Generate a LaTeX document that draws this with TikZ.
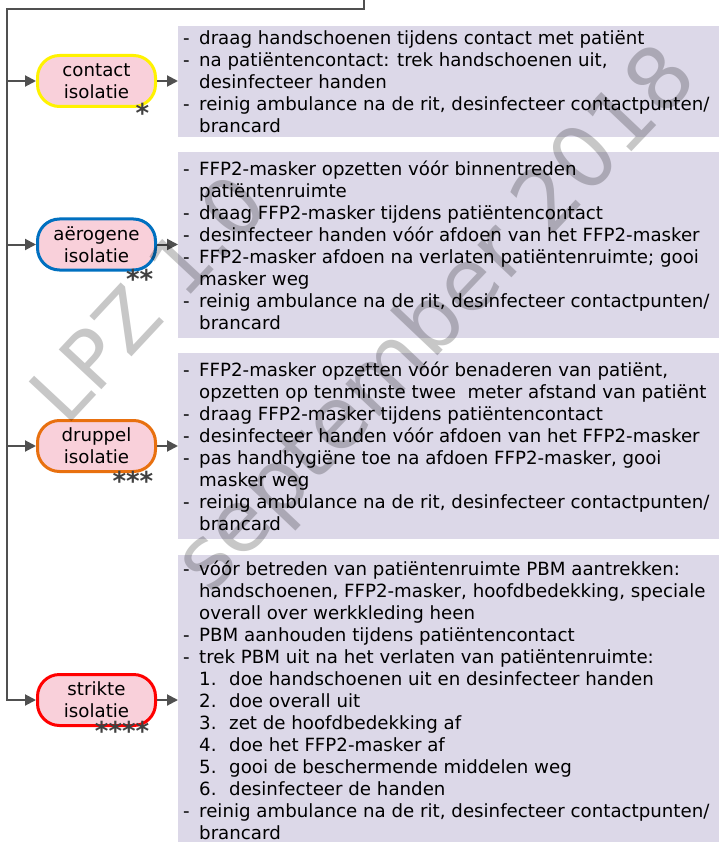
\documentclass[tikz,border=0pt]{standalone}
\usepackage{fontspec}
\setmainfont{DejaVu Sans}
\usetikzlibrary{arrows.meta}

\definecolor{linegray}{HTML}{505050}
\definecolor{boxfill}{HTML}{DCD8E8}
\definecolor{nodefill}{HTML}{F9D0DA}
\definecolor{cyellow}{HTML}{FFF200}
\definecolor{cblue}{HTML}{0070C0}
\definecolor{corange}{HTML}{E8700F}
\definecolor{cred}{HTML}{FF0000}
\definecolor{stargray}{HTML}{404040}

% list helpers: dash item, continuation line, numbered sub-item
\newcommand\dsh{\makebox[16pt][l]{-}}
\newcommand\cnt{\hspace*{16pt}}
\newcommand\stepnr[1]{\hspace*{16pt}\makebox[30pt][l]{#1}}

\begin{document}
\begin{tikzpicture}[x=1pt,y=-1pt,
  iso/.style={draw, line width=3pt, fill=nodefill, rounded corners=22pt,
    minimum width=118pt, minimum height=51pt, inner sep=0pt, align=center,
    font=\fontsize{18.2}{22}\selectfont},
  infobox/.style={fill=boxfill, minimum width=541pt, inner sep=0pt, anchor=west},
  boxtext/.style={inner sep=0pt, align=left, anchor=west,
    font=\fontsize{18.2}{22}\selectfont},
  stars/.style={font=\fontsize{26}{26}\selectfont\bfseries, text=stargray,
    inner sep=0pt, anchor=base east},
  link/.style={draw=linegray, line width=2pt, -{Triangle[length=11pt,width=11pt]}},
  wm/.style={text=black, text opacity=0.22, inner sep=0pt, anchor=base west}]
\useasboundingbox (0,0) rectangle (719,842);

% isolation categories
\node[iso, draw=cyellow] (n1) at (96.5,81) {contact\\isolatie};
\node[iso, draw=cblue]   (n2) at (96.5,244.5) {aërogene\\isolatie};
\node[iso, draw=corange] (n3) at (96.5,446) {druppel\\isolatie};
\node[iso, draw=cred]    (n4) at (96.5,700) {strikte\\isolatie};

% instruction boxes
\node[infobox, minimum height=111pt] (b1) at (178,81.5) {};
\node[infobox, minimum height=186pt] (b2) at (178,245) {};
\node[infobox, minimum height=186pt] (b3) at (178,446) {};
\node[infobox, minimum height=290pt] (b4) at (178,700) {};

\node[boxtext] (t1) at (183,81.5) {%
\dsh draag handschoenen tijdens contact met patiënt\\
\dsh na patiëntencontact: trek handschoenen uit,\\
\cnt desinfecteer handen\\
\dsh reinig ambulance na de rit, desinfecteer contactpunten/\\
\cnt brancard};

\node[boxtext] (t2) at (183,245) {%
\dsh FFP2-masker opzetten vóór binnentreden\\
\cnt patiëntenruimte\\
\dsh draag FFP2-masker tijdens patiëntencontact\\
\dsh desinfecteer handen vóór afdoen van het FFP2-masker\\
\dsh FFP2-masker afdoen na verlaten patiëntenruimte; gooi\\
\cnt masker weg\\
\dsh reinig ambulance na de rit, desinfecteer contactpunten/\\
\cnt brancard};

\node[boxtext] (t3) at (183,446) {%
\dsh FFP2-masker opzetten vóór benaderen van patiënt,\\
\cnt opzetten op tenminste twee\ \ meter afstand van patiënt\\
\dsh draag FFP2-masker tijdens patiëntencontact\\
\dsh desinfecteer handen vóór afdoen van het FFP2-masker\\
\dsh pas handhygiëne toe na afdoen FFP2-masker, gooi\\
\cnt masker weg\\
\dsh reinig ambulance na de rit, desinfecteer contactpunten/\\
\cnt brancard};

\node[boxtext] (t4) at (183,700) {%
\dsh vóór betreden van patiëntenruimte PBM aantrekken:\\
\cnt handschoenen, FFP2-masker, hoofdbedekking, speciale\\
\cnt overall over werkkleding heen\\
\dsh PBM aanhouden tijdens patiëntencontact\\
\dsh trek PBM uit na het verlaten van patiëntenruimte:\\
\stepnr{1.}doe handschoenen uit en desinfecteer handen\\
\stepnr{2.}doe overall uit\\
\stepnr{3.}zet de hoofdbedekking af\\
\stepnr{4.}doe het FFP2-masker af\\
\stepnr{5.}gooi de beschermende middelen weg\\
\stepnr{6.}desinfecteer de handen\\
\dsh reinig ambulance na de rit, desinfecteer contactpunten/\\
\cnt brancard};

% severity marks
\node[stars] (s1) at (149.5,123) {*};
\node[stars] (s2) at (153.5,288) {**};
\node[stars] (s3) at (153.5,490) {***};
\node[stars] (s4) at (149.5,740) {****};

% incoming trunk and branches
\coordinate (in) at (364,0);
\coordinate (bend) at (7,9);
\draw[link] (in) |- (bend) |- (n4.west);
\draw[link] (n1.west -| bend) -- (n1.west);
\draw[link] (n2.west -| bend) -- (n2.west);
\draw[link] (n3.west -| bend) -- (n3.west);

% category to instructions
\draw[link] (n1.east) -- (n1.east -| b1.west);
\draw[link] (n2.east) -- (n2.east -| b2.west);
\draw[link] (n3.east) -- (n3.east -| b3.west);
\draw[link] (n4.east) -- (n4.east -| b4.west);

% watermark
\node[wm, rotate=47, font=\fontsize{80}{80}\selectfont] (w1) at (66,428) {LPZ 1.0};
\node[wm, rotate=46.5, font=\fontsize{86}{86}\selectfont] (w2) at (210,596) {september 2018};
\end{tikzpicture}
\end{document}
